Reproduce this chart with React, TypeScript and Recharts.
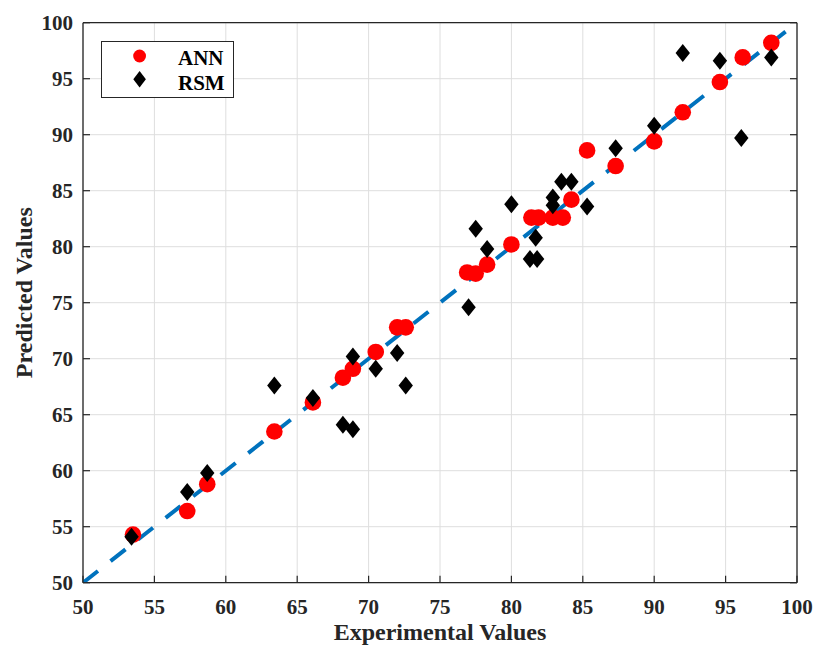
import React from 'react';
import {
    ScatterChart,
    Scatter,
    XAxis,
    YAxis,
    CartesianGrid,
    Legend
} from 'recharts';

// axis ticks (MATLAB style box plot)
const xTicks = [50, 55, 60, 65, 70, 75, 80, 85, 90, 95, 100];
const yTicks = [50, 55, 60, 65, 70, 75, 80, 85, 90, 95, 100];

// ANN predictions
const annExperimental = [53.5, 57.3, 58.7, 63.4, 66.1, 68.2, 68.9, 70.5, 72.0, 72.6, 76.9, 77.5, 78.3, 80.0, 81.4, 81.9, 82.9, 83.6, 84.2, 85.3, 87.3, 90.0, 92.0, 94.6, 96.2, 98.2];
const annPredicted = [54.3, 56.4, 58.8, 63.5, 66.1, 68.3, 69.1, 70.6, 72.8, 72.8, 77.7, 77.6, 78.4, 80.2, 82.6, 82.6, 82.6, 82.6, 84.2, 88.6, 87.2, 89.4, 92.0, 94.7, 96.9, 98.2];

// RSM predictions
const rsmExperimental = [53.4, 57.3, 58.7, 63.4, 66.1, 68.2, 68.9, 68.9, 70.5, 72.0, 72.6, 77.0, 77.5, 78.3, 80.0, 81.3, 81.8, 81.7, 82.9, 82.9, 83.5, 84.2, 85.3, 87.3, 90.0, 92.0, 94.6, 96.1, 98.2];
const rsmPredicted = [54.1, 58.1, 59.8, 67.6, 66.5, 64.1, 63.7, 70.2, 69.1, 70.5, 67.6, 74.6, 81.6, 79.8, 83.8, 78.9, 78.9, 80.8, 83.7, 84.4, 85.8, 85.8, 83.6, 88.8, 90.8, 97.3, 96.6, 89.7, 96.9];

// y = x reference line
const fitX = [50, 99.2];
const fitY = [50, 99.2];

const FONT = '"Liberation Serif", "Times New Roman", serif';
const AXIS_COLOR = '#262626';
const TICK_LEN = 7;

const annData = annExperimental.map((x, i) => ({ x, y: annPredicted[i] }));
const rsmData = rsmExperimental.map((x, i) => ({ x, y: rsmPredicted[i] }));
const fitData = fitX.map((x, i) => ({ x, y: fitY[i] }));

const RedDot = (props: any) => <circle cx={props.cx} cy={props.cy} r={8.3} fill="#ff0000" />;
const Diamond = (props: any) => {
    const { cx, cy } = props;
    return <path d={`M${cx},${cy - 9} L${cx + 7.2},${cy} L${cx},${cy + 9} L${cx - 7.2},${cy} Z`} fill="#000" />;
};
const NoDot = () => <g />;

// bottom ticks: label + inward tick mark
const BottomTick = (props: any) => {
    const { x, y, payload } = props;
    return (
        <g>
            <line x1={x} y1={y} x2={x} y2={y - TICK_LEN} stroke={AXIS_COLOR} strokeWidth={1.2} />
            <text x={x} y={y + 31} textAnchor="middle" fontFamily={FONT} fontWeight="bold" fontSize={21} fill={AXIS_COLOR}>
                {payload.value}
            </text>
        </g>
    );
};

const LeftTick = (props: any) => {
    const { x, y, payload } = props;
    const axisX = x + 10;
    return (
        <g>
            <line x1={axisX} y1={y} x2={axisX + TICK_LEN} y2={y} stroke={AXIS_COLOR} strokeWidth={1.2} />
            <text x={x} y={y + 7} textAnchor="end" fontFamily={FONT} fontWeight="bold" fontSize={21} fill={AXIS_COLOR}>
                {payload.value}
            </text>
        </g>
    );
};

const TopTick = (props: any) => (
    <line x1={props.x} y1={props.y} x2={props.x} y2={props.y + TICK_LEN} stroke={AXIS_COLOR} strokeWidth={1.2} />
);

const RightTick = (props: any) => (
    <line x1={props.x} y1={props.y} x2={props.x - TICK_LEN} y2={props.y} stroke={AXIS_COLOR} strokeWidth={1.2} />
);

const XLabel = (props: any) => {
    const vb = props.viewBox;
    return (
        <text x={vb.x + vb.width / 2} y={vb.y + 57} textAnchor="middle" fontFamily={FONT} fontWeight="bold" fontSize={24} fill={AXIS_COLOR}>
            Experimental Values
        </text>
    );
};

const YLabel = (props: any) => {
    const vb = props.viewBox;
    const lx = vb.x + 23.7;
    const ly = vb.y + vb.height / 2 - 10;
    return (
        <text x={lx} y={ly} transform={`rotate(-90, ${lx}, ${ly})`} textAnchor="middle" fontFamily={FONT} fontWeight="bold" fontSize={24} fill={AXIS_COLOR}>
            Predicted Values
        </text>
    );
};

const LegendBox = () => (
    <svg width={134} height={58} style={{ display: 'block' }}>
        <rect x={0.5} y={0.5} width={132} height={56} fill="#fff" stroke={AXIS_COLOR} strokeWidth={1} />
        <circle cx={38.6} cy={15} r={6.4} fill="#ff0000" />
        <path d="M38.6,30 L44.9,38.3 L38.6,46.6 L32.3,38.3 Z" fill="#000" />
        <text x={77} y={24.3} fontFamily={FONT} fontWeight="bold" fontSize={21} fill="#000">ANN</text>
        <text x={77} y={49.3} fontFamily={FONT} fontWeight="bold" fontSize={21} fill="#000">RSM</text>
    </svg>
);

export default function App() {
    return (
        <div style={{ position: 'absolute', left: 0, top: 0, width: 813, height: 646, background: '#fff' }}>
            <ScatterChart width={813} height={646} margin={{ top: 21.7, right: 15, bottom: 3.3, left: 8 }}>
                <CartesianGrid stroke="#dedede" strokeWidth={1} horizontalValues={yTicks} verticalValues={xTicks} />
                <XAxis
                    type="number"
                    dataKey="x"
                    xAxisId={0}
                    domain={[50, 100]}
                    ticks={xTicks}
                    height={60}
                    tickSize={0}
                    tickMargin={0}
                    tick={BottomTick}
                    axisLine={{ stroke: AXIS_COLOR, strokeWidth: 1.3 }}
                    label={XLabel}
                    allowDataOverflow
                />
                <XAxis
                    type="number"
                    xAxisId="top"
                    orientation="top"
                    domain={[50, 100]}
                    ticks={xTicks}
                    height={1}
                    tickSize={0}
                    tickMargin={0}
                    tick={TopTick}
                    axisLine={{ stroke: AXIS_COLOR, strokeWidth: 1.3 }}
                    allowDataOverflow
                />
                <YAxis
                    type="number"
                    dataKey="y"
                    yAxisId={0}
                    domain={[50, 100]}
                    ticks={yTicks}
                    width={75}
                    tickSize={0}
                    tickMargin={10}
                    tick={LeftTick}
                    axisLine={{ stroke: AXIS_COLOR, strokeWidth: 1.3 }}
                    label={YLabel}
                    allowDataOverflow
                />
                <YAxis
                    type="number"
                    yAxisId="right"
                    orientation="right"
                    domain={[50, 100]}
                    ticks={yTicks}
                    width={1}
                    tickSize={0}
                    tickMargin={0}
                    tick={RightTick}
                    axisLine={{ stroke: AXIS_COLOR, strokeWidth: 1.3 }}
                    allowDataOverflow
                />
                <Legend
                    layout="vertical"
                    align="center"
                    verticalAlign="middle"
                    content={() => <LegendBox />}
                    wrapperStyle={{ position: 'absolute', left: 100.7, top: 40.7, width: 134, height: 58 }}
                />
                <Scatter
                    name="fit"
                    data={fitData}
                    line={{ stroke: '#0072bd', strokeWidth: 4, strokeDasharray: '19 16' }}
                    lineType="joint"
                    shape={NoDot}
                    legendType="none"
                    isAnimationActive={false}
                />
                <Scatter name="ANN" data={annData} shape={RedDot} isAnimationActive={false} />
                <Scatter name="RSM" data={rsmData} shape={Diamond} isAnimationActive={false} />
            </ScatterChart>
        </div>
    );
}
